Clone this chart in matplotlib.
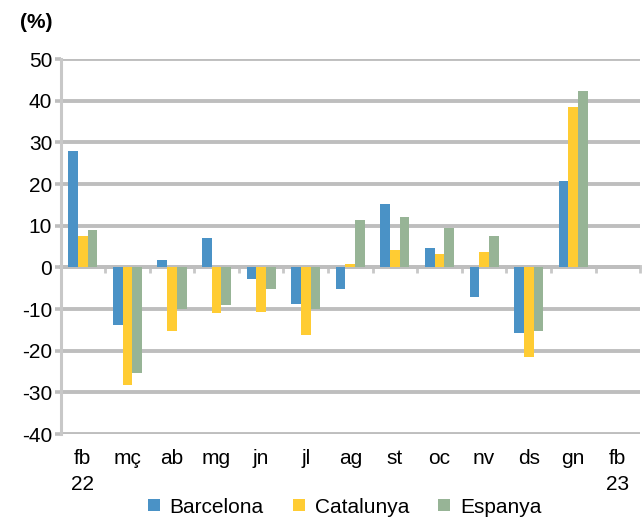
import numpy as np
import matplotlib
matplotlib.use('Agg')
import matplotlib.pyplot as plt
from matplotlib.lines import Line2D

months = ['fb\n22', 'mç', 'ab', 'mg', 'jn', 'jl', 'ag', 'st', 'oc', 'nv', 'ds', 'gn', 'fb\n23']
barcelona = [28.0, -13.9, 1.7, 7.0, -2.9, -8.7, -5.3, 15.1, 4.7, -7.2, -15.8, 20.8, np.nan]
catalunya = [7.5, -28.2, -15.3, -11.0, -10.6, -16.3, 0.8, 4.2, 3.1, 3.7, -21.5, 38.5, np.nan]
espanya = [9.0, -25.3, -10.1, -9.1, -5.3, -10.1, 11.35, 12.2, 9.4, 7.5, -15.3, 42.4, np.nan]
series_names = ['Barcelona', 'Catalunya', 'Espanya']
colors = ['#4A92C6', '#FFCC33', '#97B496']

plt.rcParams['font.family'] = ['Liberation Sans', 'DejaVu Sans']
plt.rcParams['axes.unicode_minus'] = False

fig = plt.figure(figsize=(6.44, 5.18), dpi=100)
ax = fig.add_axes([0.094, 0.162, 0.9, 0.724])

x = np.arange(len(months))
w = 0.218
for i, (vals, name, c) in enumerate(zip([barcelona, catalunya, espanya], series_names, colors)):
    ax.bar(x + (i - 1) * w, vals, width=w, color=c, label=name, zorder=3)

ax.set_xlim(-0.5, len(months) - 0.5)
ax.set_ylim(-40, 50)
ax.set_yticks(range(-40, 51, 10))
ax.yaxis.grid(True, color='#BEBEBE', linewidth=2.8, zorder=0)
ax.set_axisbelow(True)

for s in ['top', 'right', 'bottom']:
    ax.spines[s].set_visible(False)
ax.spines['left'].set_color('#C8C8C8')
ax.spines['left'].set_linewidth(2.2)

ax.set_xticks(x)
ax.set_xticklabels(months, fontsize=15, linespacing=1.45)
ax.tick_params(axis='x', length=0, pad=11)
ax.tick_params(axis='y', direction='out', length=4, width=2.6, color='#BEBEBE',
               labelsize=15, pad=2)

# axis line at zero with small ticks between months
sec = ax.secondary_xaxis(40 / 90)
sec.set_xticks(np.arange(-0.5, len(months), 1))
sec.tick_params(axis='x', direction='out', length=4, width=2, color='#C8C8C8',
                labelbottom=False, labeltop=False)
sec.spines['bottom'].set_color('#C8C8C8')
sec.spines['bottom'].set_linewidth(2.8)
sec.spines['top'].set_visible(False)

fig.text(0.031, 0.957, '(%)', fontsize=15, fontweight='bold', va='center')

handles = [Line2D([], [], linestyle='none', marker='s', markersize=8,
                  markerfacecolor=c, markeredgewidth=0) for c in colors]
fig.legend(handles, series_names, loc='center', bbox_to_anchor=(0.535, 0.021),
           ncol=3, frameon=False, fontsize=15, handlelength=0.6,
           columnspacing=1.4, handletextpad=0.45)

fig.savefig('out.png', dpi=100)
